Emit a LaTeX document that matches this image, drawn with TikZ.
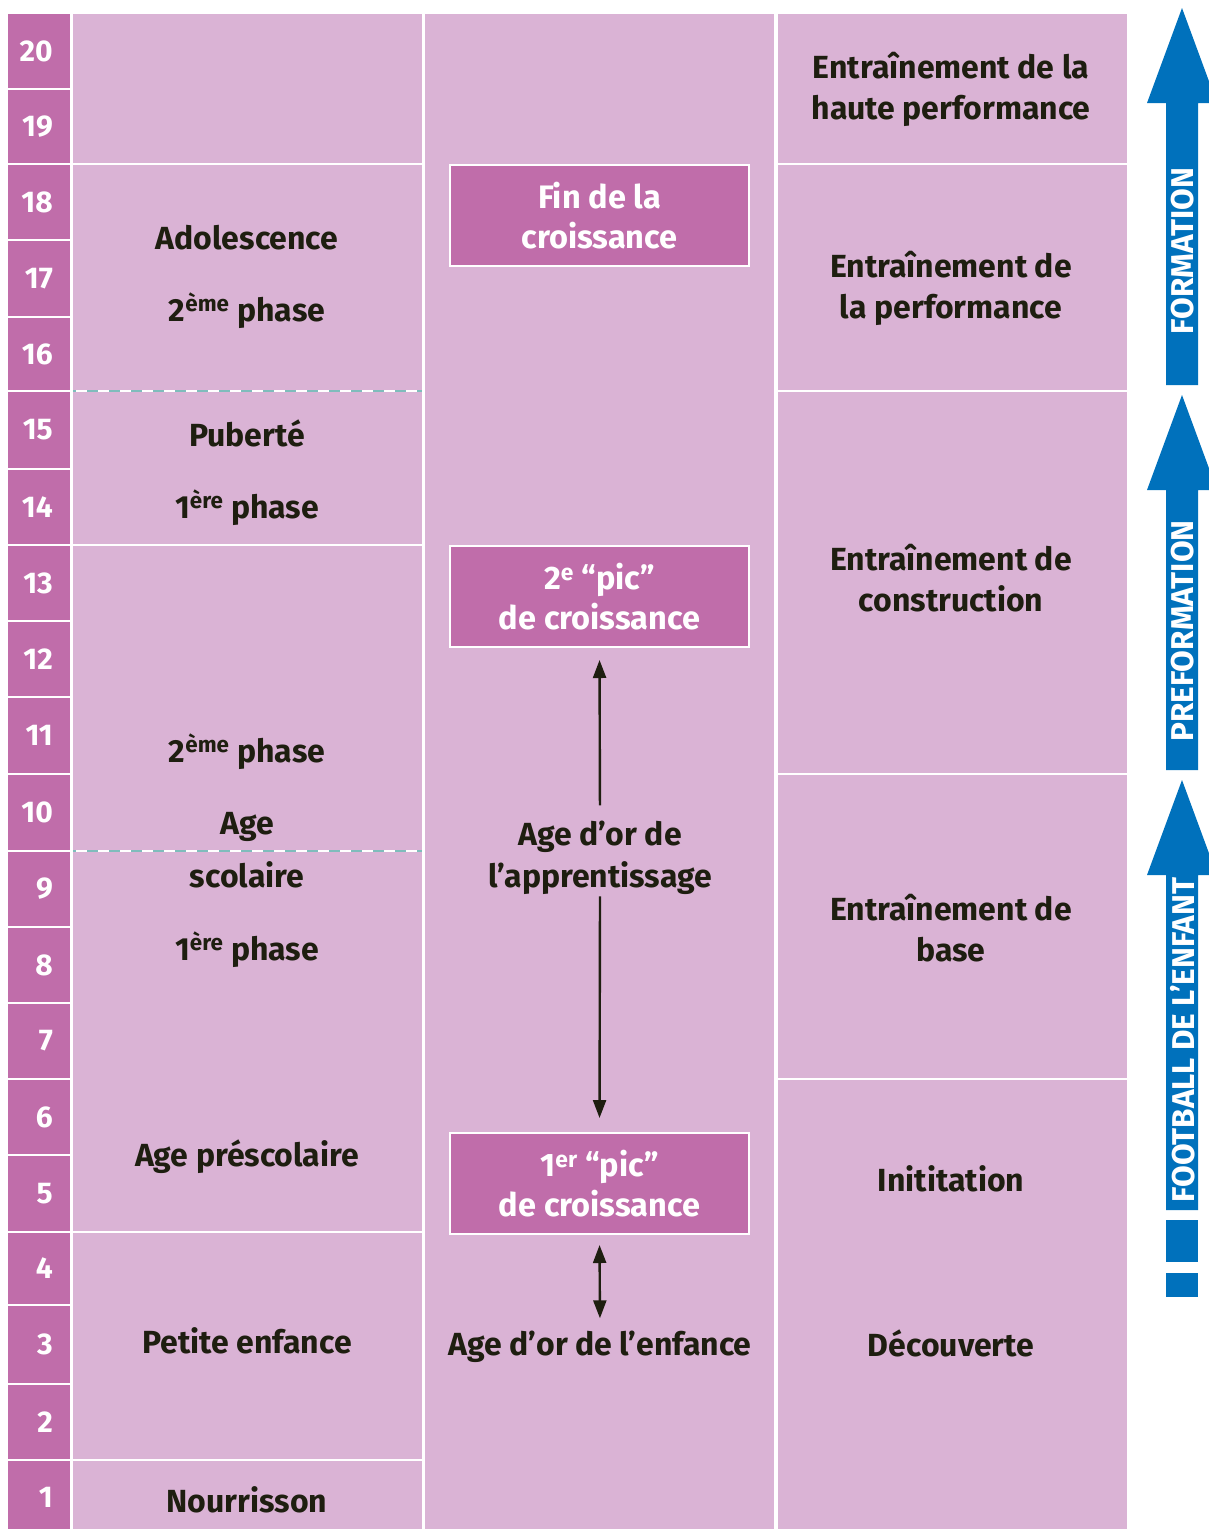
\documentclass[tikz,border=0pt]{standalone}
\usepackage{fontspec}
\setmainfont{Fira Sans}
\usetikzlibrary{arrows.meta}
\definecolor{dpink}{HTML}{C06DAA}
\definecolor{lpink}{HTML}{DAB3D5}
\definecolor{fblue}{HTML}{0071BC}
\definecolor{ink}{HTML}{1E1E10}
\definecolor{dashteal}{HTML}{7FBCBC}
\begin{document}
\begin{tikzpicture}[x=1pt,y=-1pt,
  num/.style={text=white,font=\fontsize{30}{34}\selectfont\bfseries,anchor=east,inner sep=0},
  lbl/.style={text=ink,font=\fontsize{32}{41}\selectfont\bfseries,anchor=base,inner sep=0},
  rlbl/.style={text=ink,font=\fontsize{32}{41}\selectfont\bfseries,anchor=base,inner sep=0},
  pinkbox/.style={fill=dpink,draw=white,line width=2pt,minimum width=299pt,minimum height=101pt,text=white,font=\fontsize{32.5}{40}\selectfont\bfseries,align=center,inner sep=0},
  sepline/.style={white,line width=2.5pt},
  conn/.style={ink,line width=2.4pt},
  tipstyle/.style={-{Triangle[length=18pt,width=13pt]}},
  vtext/.style={text=white,font=\fontsize{31.5}{34}\selectfont\bfseries,rotate=90,inner sep=0}
]
\useasboundingbox (0,0) rectangle (1208,1529);
\fill[white] (0,0) rectangle (1208,1529);
% columns
\fill[dpink] (8,14) rectangle (70,1529);
\fill[lpink] (73,14) rectangle (422,1529);
\fill[lpink] (425,14) rectangle (774,1529);
\fill[lpink] (778,14) rectangle (1127,1529);
% number column separators
\foreach \b in {89,164,240,317,391,469,545,621,697,774,851,927,1003,1079,1155,1232,1305,1384,1460}
  \draw[sepline] (8,\b) -- (70,\b);
% column 1 separators
\foreach \b in {164,545,1232,1460}
  \draw[sepline] (73,\b) -- (422,\b);
\foreach \b in {391,851}{
  \draw[dashteal,line width=2pt] (73,\b) -- (422,\b);
  \draw[white,line width=2pt,dash pattern=on 11pt off 11pt,dash phase=-3pt] (73,\b) -- (422,\b);
}
% column 3 separators
\foreach \b in {164,391,774,1079}
  \draw[sepline] (778,\b) -- (1127,\b);
% numbers
\node[num] (n20) at (53,51.5) {20};
\node[num] (n19) at (53,126.5) {19};
\node[num] (n18) at (53,202) {18};
\node[num] (n17) at (53,278.5) {17};
\node[num] (n16) at (53,354) {16};
\node[num] (n15) at (53,430) {15};
\node[num] (n14) at (53,507) {14};
\node[num] (n13) at (53,583) {13};
\node[num] (n12) at (53,659) {12};
\node[num] (n11) at (53,735.5) {11};
\node[num] (n10) at (53,812.5) {10};
\node[num] (n9) at (53,889) {9};
\node[num] (n8) at (53,965) {8};
\node[num] (n7) at (53,1041) {7};
\node[num] (n6) at (53,1117) {6};
\node[num] (n5) at (53,1193.5) {5};
\node[num] (n4) at (53,1268.5) {4};
\node[num] (n3) at (53,1344.5) {3};
\node[num] (n2) at (53,1422) {2};
\node[num] (n1) at (53,1497.5) {1};
% column 1 labels
\node[lbl] (ado) at (247,249) {Adolescence};
\node[lbl] (adoph) at (247,321) {2\textsuperscript{ème} phase};
\node[lbl] (pub) at (247,446) {Puberté};
\node[lbl] (pubph) at (247,518) {1\textsuperscript{ère} phase};
\node[lbl] (scph2) at (247,762) {2\textsuperscript{ème} phase};
\node[lbl] (age) at (247,834) {Age};
\node[lbl] (scol) at (247,887) {scolaire};
\node[lbl] (scph1) at (247,960) {1\textsuperscript{ère} phase};
\node[lbl] (presc) at (247,1166) {Age préscolaire};
\node[lbl] (petite) at (247,1353) {Petite enfance};
\node[lbl] (nour) at (247,1512) {Nourrisson};
% column 2
\node[pinkbox] (fin) at (599.5,215.5) {Fin de la\\croissance};
\node[pinkbox] (pic2) at (599.5,596.5) {2\textsuperscript{e} “pic”\\de croissance};
\node[pinkbox] (pic1) at (599.5,1183.5) {1\textsuperscript{er} “pic”\\de croissance};
\node[lbl] (appr1) at (600,845) {Age d’or de};
\node[lbl] (appr2) at (600,887) {l’apprentissage};
\node[lbl] (enf) at (600,1355) {Age d’or de l’enfance};
\draw[conn,tipstyle,shorten <=15pt,shorten >=12pt] (appr1.north) -- (pic2.south);
\draw[conn,tipstyle,shorten <=2pt,shorten >=14pt] (appr2.south) -- (pic1.north);
\draw[conn,{Triangle[length=18pt,width=13pt]}-{Triangle[length=18pt,width=13pt]},shorten <=10pt,shorten >=12pt] (pic1.south) -- (enf.north);
% column 3 labels
\node[rlbl] (hp1) at (951,78) {Entraînement de la};
\node[rlbl] (hp2) at (951,119) {haute performance};
\node[rlbl] (pf1) at (951,277) {Entraînement de};
\node[rlbl] (pf2) at (951,318) {la performance};
\node[rlbl] (cs1) at (951,570) {Entraînement de};
\node[rlbl] (cs2) at (951,611) {construction};
\node[rlbl] (bs1) at (951,920) {Entraînement de};
\node[rlbl] (bs2) at (951,961) {base};
\node[rlbl] (init) at (951,1191) {Inititation};
\node[rlbl] (dec) at (951,1356) {Découverte};
% blue arrows
\fill[fblue] (1182,8) -- (1217,103) -- (1198,103) -- (1198,385) -- (1166,385) -- (1166,103) -- (1147,103) -- cycle;
\fill[fblue] (1182,395) -- (1217,490) -- (1198,490) -- (1198,770) -- (1166,770) -- (1166,490) -- (1147,490) -- cycle;
\fill[fblue] (1182,780) -- (1217,875) -- (1198,875) -- (1198,1210) -- (1166,1210) -- (1166,875) -- (1147,875) -- cycle;
\fill[fblue] (1166,1220) rectangle (1198,1262);
\fill[fblue] (1166,1273) rectangle (1198,1297);
\node[vtext] (form) at (1183,251) {FORMATION};
\node[vtext] (preform) at (1183,631) {PREFORMATION};
\node[vtext] (foot) at (1183,1040) {FOOTBALL DE L’ENFANT};
\end{tikzpicture}
\end{document}
